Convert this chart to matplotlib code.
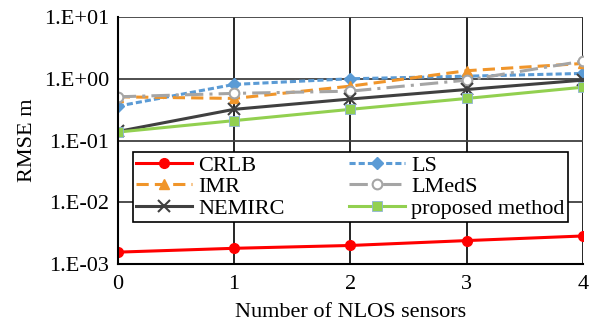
import matplotlib.pyplot as plt

plt.rcParams['font.family'] = ['Liberation Serif', 'DejaVu Serif']

x = [0, 1, 2, 3, 4]
crlb = [1.56e-3, 1.8e-3, 2.0e-3, 2.4e-3, 2.85e-3]
ls = [0.36, 0.81, 1.0, 1.1, 1.22]
imr = [0.51, 0.48, 0.76, 1.35, 1.77]
lmeds = [0.51, 0.58, 0.63, 0.95, 1.93]
nemirc = [0.14, 0.32, 0.47, 0.67, 0.95]
proposed = [0.137, 0.21, 0.32, 0.48, 0.73]

fig = plt.figure(figsize=(5.95, 3.33), dpi=100)
ax = fig.add_axes([0.198, 0.207, 0.782, 0.742])

ax.plot(x, crlb, color='#ff0000', lw=2.2, marker='o', ms=7, label='CRLB')
ax.plot(x, ls, color='#5b9bd5', lw=2.2, ls=(0, (2, 1)), marker='D', ms=6, label='LS')
ax.plot(x, imr, color='#f0952a', lw=2.2, ls=(0, (4, 2)), marker='^', ms=7, label='IMR')
ax.plot(x, lmeds, color='#a5a5a5', lw=2.2, ls=(0, (6, 2, 1, 2)), marker='o', ms=7,
        mfc='white', mec='#a5a5a5', mew=1.5, label='LMedS')
ax.plot(x, nemirc, color='#404040', lw=2.2, marker='x', ms=8, mew=1.5, label='NEMIRC')
ax.plot(x, proposed, color='#92d050', lw=2.2, marker='s', ms=7, mec='#8fb4d8', mew=0.6,
        label='proposed method')

ax.set_yscale('log')
ax.set_ylim(1e-3, 10)
ax.set_xlim(0, 4)
ax.set_xticks(x)
ax.set_yticks([1e-3, 1e-2, 1e-1, 1, 10])
ax.set_yticklabels(['1.E-03', '1.E-02', '1.E-01', '1.E+00', '1.E+01'])
ax.minorticks_off()
ax.tick_params(length=0, labelsize=16, pad=6)
ax.tick_params(axis='x', pad=8)
ax.grid(True, axis='y', color='#404040', lw=1.3)
ax.grid(True, axis='x', color='black', lw=1.2)
ax.set_axisbelow(True)
for s in ['top', 'right']:
    ax.spines[s].set_visible(False)
ax.spines['left'].set_linewidth(1.5)
ax.spines['bottom'].set_linewidth(1.5)

ax.set_xlabel('Number of NLOS sensors', fontsize=16, labelpad=6)
ax.set_ylabel('RMSE m', fontsize=16, labelpad=5)

h, l = ax.get_legend_handles_labels()
order = [0, 2, 4, 1, 3, 5]
leg = ax.legend([h[i] for i in order], [l[i] for i in order], ncol=2, fontsize=16,
                loc='upper left', bbox_to_anchor=(0.032, 0.455), frameon=True,
                fancybox=False, edgecolor='black', framealpha=1, handlelength=2.5,
                borderpad=0.15, labelspacing=0.05, columnspacing=2.9, handletextpad=0.3,
                borderaxespad=0)
leg.get_frame().set_linewidth(1.2)

fig.savefig('out.png', dpi=100)
